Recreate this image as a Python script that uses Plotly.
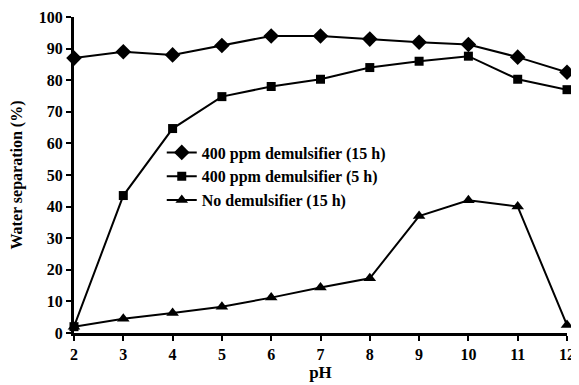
import plotly.graph_objects as go

ph = [2, 3, 4, 5, 6, 7, 8, 9, 10, 11, 12]
demul_15h = [87, 89, 88, 91, 94, 94, 93, 92, 91.3, 87.3, 82.5]
demul_5h = [2, 43.5, 64.7, 74.8, 78, 80.3, 84, 86, 87.6, 80.3, 77]
no_demul_15h = [2, 4.5, 6.3, 8.3, 11.2, 14.4, 17.3, 37, 42, 40, 2.5]

names = ["400 ppm demulsifier (15 h)", "400 ppm demulsifier (5 h)", "No demulsifier (15 h)"]
xticks = [2, 3, 4, 5, 6, 7, 8, 9, 10, 11, 12]
yticks = [0, 10, 20, 30, 40, 50, 60, 70, 80, 90, 100]

FONT = "Times New Roman"

fig = go.Figure()
fig.add_trace(go.Scatter(x=ph, y=demul_15h, name=names[0], mode="lines+markers",
                         line=dict(color="black", width=2),
                         marker=dict(symbol="diamond", size=12, color="black"),
                         cliponaxis=False))
fig.add_trace(go.Scatter(x=ph, y=demul_5h, name=names[1], mode="lines+markers",
                         line=dict(color="black", width=2),
                         marker=dict(symbol="square", size=9, color="black"),
                         cliponaxis=False))
fig.add_trace(go.Scatter(x=ph, y=no_demul_15h, name=names[2], mode="lines+markers",
                         line=dict(color="black", width=2),
                         marker=dict(symbol="triangle-up", size=11, color="black"),
                         cliponaxis=False))

# page body has an 8px margin, so the figure is sized/offset to compensate
fig.update_layout(
    width=571, height=377,
    margin=dict(l=66, r=12, t=9, b=52),
    paper_bgcolor="white", plot_bgcolor="white",
    font=dict(family=FONT, color="black", size=16),
    showlegend=True,
    legend=dict(x=0.178, y=0.625, xanchor="left", yanchor="top",
                bgcolor="rgba(0,0,0,0)", font=dict(family=FONT, size=16, weight="bold"),
                itemwidth=30, tracegroupgap=0),
    xaxis=dict(range=[2, 12], tickvals=xticks, showgrid=False, zeroline=False,
               showline=True, linecolor="black", linewidth=3, automargin=False,
               ticks="outside", ticklen=5, tickwidth=2, tickcolor="black",
               ticklabeloverflow="allow",
               tickfont=dict(family=FONT, size=16, weight="bold"),
               title=dict(text="pH", font=dict(family=FONT, size=17, weight="bold"), standoff=0)),
    yaxis=dict(range=[0, 100], tickvals=yticks, showgrid=False, zeroline=False,
               showline=True, linecolor="black", linewidth=3, automargin=False,
               ticks="outside", ticklen=5, tickwidth=2, tickcolor="black",
               ticklabeloverflow="allow",
               tickfont=dict(family=FONT, size=16, weight="bold"),
               title=dict(text="Water separation (%)", font=dict(family=FONT, size=16, weight="bold"), standoff=16)),
)

fig.write_html("out.html")
